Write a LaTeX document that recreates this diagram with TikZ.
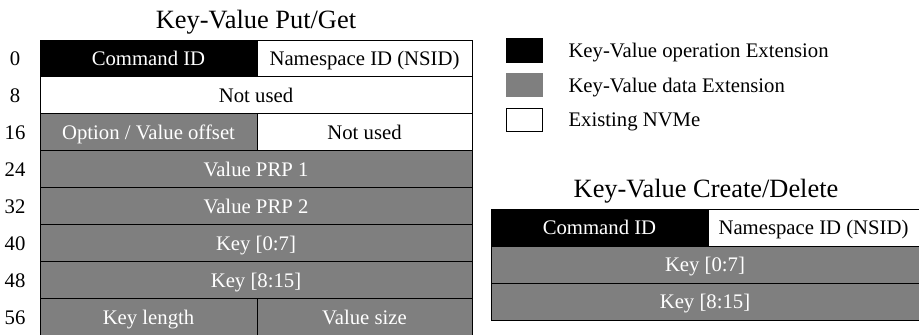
\documentclass[tikz,border=0pt]{standalone}
\usepackage{fontspec}
\setmainfont{Liberation Serif}
\begin{document}
\begin{tikzpicture}[x=1bp, y=-1bp,
  cell/.style={draw=black, line width=0.9bp, inner sep=0pt, outer sep=0pt,
    minimum height=36.9bp, text height=14.6bp, text depth=0pt,
    font=\fontsize{20.8}{24}\selectfont},
  opcell/.style={cell, fill=black, text=white},
  datacell/.style={cell, fill=gray50, text=white},
  nvmecell/.style={cell, fill=white, text=black},
  offset/.style={font=\fontsize{20.8}{24}\selectfont, text height=14.6bp, text depth=0pt, inner sep=0pt},
  title/.style={font=\fontsize{26.5}{30}\selectfont, anchor=base},
  legendbox/.style={minimum width=37bp, minimum height=24.5bp, inner sep=0pt},
  legendtext/.style={anchor=base west, font=\fontsize{20.8}{24}\selectfont}]
\definecolor{gray50}{HTML}{7F7F7F}
\useasboundingbox (0,0) rectangle (919,334);

% ---- Put/Get command layout ----
\node[title] (tpg) at (256,28) {Key-Value Put/Get};

\node[opcell,  minimum width=217bp] (pgcmd)  at (148.5,58.45)  {Command ID};
\node[nvmecell,minimum width=215bp] (pgns)   at (364.5,58.45)  {Namespace ID (NSID)};
\node[nvmecell,minimum width=432bp] (pgnu)   at (256,95.35)    {Not used};
\node[datacell,minimum width=217bp] (pgopt)  at (148.5,132.25) {Option / Value offset};
\node[nvmecell,minimum width=215bp] (pgnu2)  at (364.5,132.25) {Not used};
\node[datacell,minimum width=432bp] (pgprp1) at (256,169.15)   {Value PRP 1};
\node[datacell,minimum width=432bp] (pgprp2) at (256,206.05)   {Value PRP 2};
\node[datacell,minimum width=432bp] (pgk1)   at (256,242.95)   {Key [0:7]};
\node[datacell,minimum width=432bp] (pgk2)   at (256,279.85)   {Key [8:15]};
\node[datacell,minimum width=217bp] (pgklen) at (148.5,316.75) {Key length};
\node[datacell,minimum width=215bp] (pgvsz)  at (364.5,316.75) {Value size};

% byte offsets
\node[offset] (o0)  at (15,58.45)  {0};
\node[offset] (o8)  at (15,95.35)  {8};
\node[offset] (o16) at (15,132.25) {16};
\node[offset] (o24) at (15,169.15) {24};
\node[offset] (o32) at (15,206.05) {32};
\node[offset] (o40) at (15,242.95) {40};
\node[offset] (o48) at (15,279.85) {48};
\node[offset] (o56) at (15,316.75) {56};

% ---- legend ----
\node[legendbox, fill=black] (lop) at (524.5,50.5) {};
\node[legendtext] (lopt) at (565,57) {Key-Value operation Extension};
\node[legendbox, fill=gray50] (ldat) at (524.5,85) {};
\node[legendtext] (ldatt) at (565,92) {Key-Value data Extension};
\node[legendbox, fill=white, draw=black, line width=0.9bp, minimum width=36bp, minimum height=23bp] (lnv) at (524.5,119.5) {};
\node[legendtext] (lnvt) at (565,126) {Existing NVMe};

% ---- Create/Delete command layout ----
\node[title] (tcd) at (706,197) {Key-Value Create/Delete};

\node[opcell,  minimum width=217bp] (cdcmd) at (599.5,227.5) {Command ID};
\node[nvmecell,minimum width=211bp] (cdns)  at (813.5,227.5) {Namespace ID (NSID)};
\node[datacell,minimum width=428bp] (cdk1)  at (705,264.5)   {Key [0:7]};
\node[datacell,minimum width=428bp] (cdk2)  at (705,301.5)   {Key [8:15]};
\end{tikzpicture}
\end{document}
